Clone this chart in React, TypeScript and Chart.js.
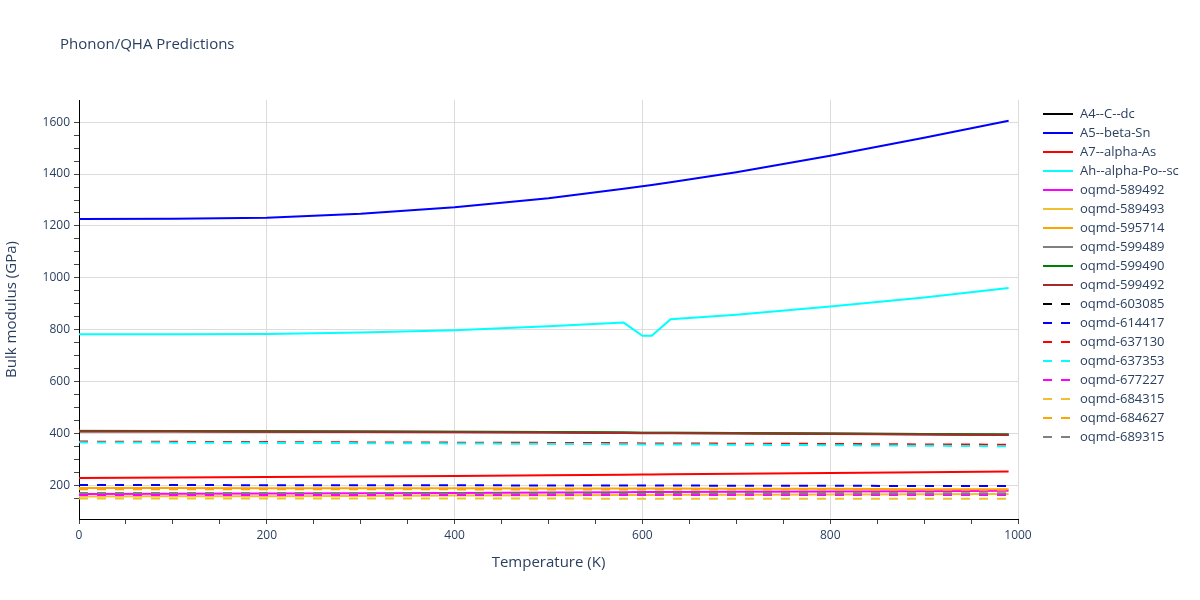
import React, { useEffect, useRef } from 'react';
import { Chart, registerables } from 'chart.js';

Chart.register(...registerables);

const chartTitle = 'Phonon/QHA Predictions';
const xAxisTitle = 'Temperature (K)';
const yAxisTitle = 'Bulk modulus (GPa)';

const temperatures = [0, 100, 200, 300, 400, 500, 580, 600, 610, 630, 700, 800, 900, 990];

const seriesNames = [
  'A4--C--dc', 'A5--beta-Sn', 'A7--alpha-As', 'Ah--alpha-Po--sc',
  'oqmd-589492', 'oqmd-589493', 'oqmd-595714', 'oqmd-599489', 'oqmd-599490', 'oqmd-599492',
  'oqmd-603085', 'oqmd-614417', 'oqmd-637130', 'oqmd-637353', 'oqmd-677227', 'oqmd-684315',
  'oqmd-684627', 'oqmd-689315',
];

const seriesColors = [
  '#000000', '#0000ff', '#ff0000', '#00ffff',
  '#ff00ff', '#f0c030', '#ffa500', '#808080', '#008000', '#a52a2a',
  '#000000', '#0000ff', '#ff0000', '#00ffff', '#ff00ff', '#f0c030', '#ffa500', '#808080',
];

const seriesDashed = [
  false, false, false, false, false, false, false, false, false, false,
  true, true, true, true, true, true, true, true,
];

const a4CDc = [410, 410, 409, 408, 407, 406, 404, 403, 403, 403, 402, 400, 398, 396];
const a5BetaSn = [1227, 1228, 1232, 1247, 1272, 1307, 1343, 1353, 1358, 1368, 1407, 1470, 1540, 1605];
const a7AlphaAs = [230, 232, 234, 236, 238, 240, 242, 243, 243, 244, 246, 249, 252, 255];
const ahAlphaPoSc = [783, 783, 784, 790, 799, 814, 828, 777, 777, 841, 858, 890, 925, 961];
const oqmd589492 = [168, 169, 170, 171, 172, 174, 175, 176, 176, 176, 177, 178, 179, 181];
const oqmd589493 = [159, 160, 160, 161, 162, 163, 164, 164, 164, 165, 165, 166, 167, 168];
const oqmd595714 = [191, 191, 190, 190, 190, 189, 189, 189, 189, 189, 188, 188, 187, 187];
const oqmd599489 = [412, 411, 410, 409, 408, 407, 405, 404, 404, 404, 403, 401, 399, 397];
const oqmd599490 = [411, 411, 410, 409, 408, 407, 405, 404, 404, 404, 403, 401, 399, 397];
const oqmd599492 = [409, 409, 408, 407, 406, 405, 403, 402, 402, 402, 401, 399, 397, 395];
const oqmd603085 = [171, 171, 171, 170, 170, 170, 170, 170, 170, 170, 169, 169, 169, 169];
const oqmd614417 = [203, 203, 202, 202, 202, 201, 201, 201, 201, 201, 200, 200, 199, 199];
const oqmd637130 = [370, 369, 368, 367, 366, 365, 364, 363, 363, 363, 362, 361, 359, 358];
const oqmd637353 = [367, 366, 365, 364, 363, 361, 360, 359, 359, 359, 358, 356, 354, 352];
const oqmd677227 = [164, 164, 164, 164, 164, 164, 164, 164, 164, 164, 164, 164, 164, 164];
const oqmd684315 = [151, 151, 151, 151, 151, 151, 150, 150, 150, 150, 150, 150, 150, 150];
const oqmd684627 = [187, 187, 187, 187, 186, 186, 186, 186, 186, 186, 186, 185, 185, 185];
const oqmd689315 = [172, 172, 172, 172, 171, 171, 171, 171, 171, 171, 171, 170, 170, 170];

const seriesValues = [
  a4CDc, a5BetaSn, a7AlphaAs, ahAlphaPoSc, oqmd589492, oqmd589493, oqmd595714,
  oqmd599489, oqmd599490, oqmd599492, oqmd603085, oqmd614417, oqmd637130, oqmd637353,
  oqmd677227, oqmd684315, oqmd684627, oqmd689315,
];

const FONT = '"Open Sans", verdana, arial, sans-serif';
const TEXT = '#2a3f5f';

const overlayPlugin = {
  id: 'overlay',
  afterDraw(chart: any) {
    const ctx = chart.ctx;
    const area = chart.chartArea;
    ctx.save();
    ctx.fillStyle = TEXT;
    ctx.font = `15px ${FONT}`;
    ctx.textAlign = 'left';
    ctx.textBaseline = 'middle';
    ctx.fillText(chartTitle, 60, 45);

    ctx.font = `15px ${FONT}`;
    ctx.textAlign = 'center';
    ctx.fillText(xAxisTitle, (area.left + area.right) / 2, 563);
    ctx.save();
    ctx.translate(12, (area.top + area.bottom) / 2);
    ctx.rotate(-Math.PI / 2);
    ctx.fillText(yAxisTitle, 0, 0);
    ctx.restore();

    ctx.font = `13px ${FONT}`;
    ctx.textAlign = 'left';
    chart.data.datasets.forEach((ds: any, i: number) => {
      const y = 114 + i * 19;
      ctx.beginPath();
      ctx.strokeStyle = ds.borderColor;
      ctx.lineWidth = 2;
      ctx.setLineDash(ds.borderDash || []);
      ctx.moveTo(1043, y);
      ctx.lineTo(1073, y);
      ctx.stroke();
      ctx.setLineDash([]);
      ctx.fillStyle = TEXT;
      ctx.fillText(ds.label, 1080, y);
    });
    ctx.restore();
  },
};

export default function App() {
  const ref = useRef<HTMLCanvasElement>(null);
  useEffect(() => {
    if (!ref.current) return;
    const n = seriesNames.length;
    const chart = new Chart(ref.current, {
      type: 'line',
      data: {
        datasets: seriesNames.map((name, i) => ({
          label: name,
          data: temperatures.map((t, j) => ({ x: t, y: seriesValues[i][j] })),
          borderColor: seriesColors[i],
          backgroundColor: seriesColors[i],
          borderWidth: 2,
          borderDash: seriesDashed[i] ? [9, 9] : [],
          pointRadius: 0,
          tension: 0,
          fill: false,
          order: n - i,
        })),
      },
      options: {
        animation: false,
        responsive: true,
        maintainAspectRatio: false,
        layout: { padding: { top: 100, right: 182, bottom: 0, left: 0 } },
        plugins: { legend: { display: false }, title: { display: false }, tooltip: { enabled: false } },
        scales: {
          x: {
            type: 'linear',
            min: 0,
            max: 1000,
            afterFit: (s: any) => { s.height = 81; },
            ticks: {
              stepSize: 50,
              color: TEXT,
              font: { family: FONT, size: 12 },
              padding: 4,
              maxRotation: 0,
              autoSkip: false,
              callback: (v: any) => (Number(v) % 200 === 0 ? String(v) : ''),
            },
            grid: {
              color: (c: any) => (c.tick && c.tick.value % 200 === 0 && c.tick.value !== 0 ? '#dcdcdc' : 'rgba(0,0,0,0)'),
              tickColor: '#444',
              tickLength: 5,
              drawTicks: true,
            },
            border: { color: '#000', width: 1 },
          },
          y: {
            type: 'linear',
            min: 72,
            max: 1685,
            afterFit: (s: any) => { s.width = 79; },
            afterBuildTicks: (s: any) => {
              s.ticks = s.ticks.filter((t: any) => t.value % 50 === 0 && t.value >= 72 && t.value <= 1685);
            },
            ticks: {
              stepSize: 50,
              color: TEXT,
              font: { family: FONT, size: 12 },
              padding: 4,
              autoSkip: false,
              callback: (v: any) => (Number(v) % 200 === 0 ? String(v) : ''),
            },
            grid: {
              color: (c: any) => (c.tick && c.tick.value % 200 === 0 ? '#dcdcdc' : 'rgba(0,0,0,0)'),
              tickColor: '#444',
              tickLength: 5,
              drawTicks: true,
            },
            border: { color: '#000', width: 1 },
          },
        },
      },
      plugins: [overlayPlugin],
    });
    return () => chart.destroy();
  }, []);
  return (
    <div style={{ position: 'fixed', left: 0, top: 0, width: 1200, height: 600, background: '#fff' }}>
      <canvas ref={ref} />
    </div>
  );
}
